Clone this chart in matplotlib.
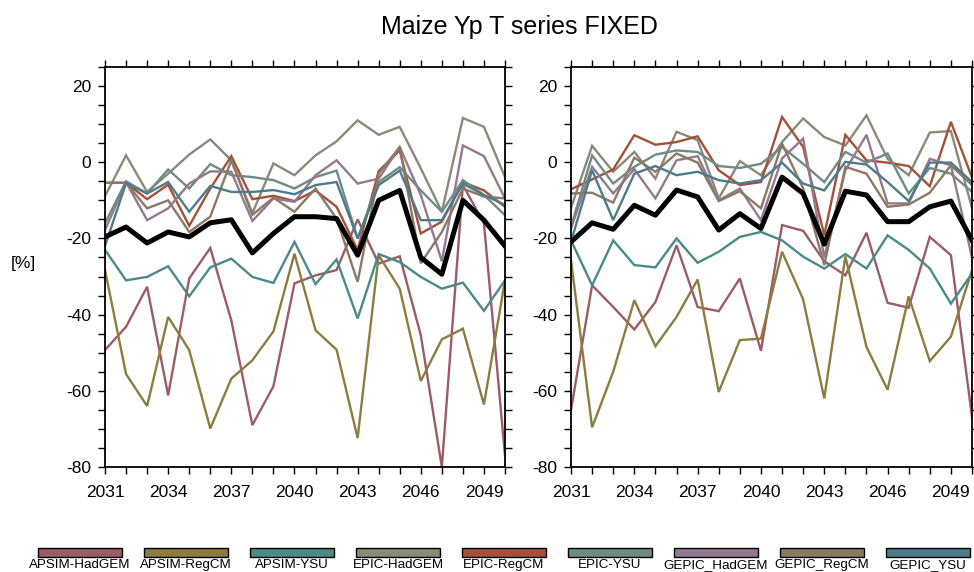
import numpy as np
import matplotlib
matplotlib.use('Agg')
import matplotlib.pyplot as plt
from matplotlib.patches import Rectangle
from matplotlib.ticker import MultipleLocator

plt.rcParams['font.family'] = ['Liberation Sans', 'DejaVu Sans']
plt.rcParams['axes.unicode_minus'] = False

years = np.arange(2031, 2051)

models = ['APSIM-HadGEM', 'APSIM-RegCM', 'APSIM-YSU', 'EPIC-HadGEM', 'EPIC-RegCM',
          'EPIC-YSU', 'GEPIC_HadGEM', 'GEPIC_RegCM', 'GEPIC_YSU']
colors = ['#9c5c66', '#8c7c40', '#4a8a88', '#8a8a78', '#a45038',
          '#6e8c84', '#947890', '#8c7864', '#4c7c8c']

# left panel, yield change [%]
left_apsim_hadgem = [-49.3, -43.2, -32.7, -61.2, -30.5, -22.5, -41.5, -69.0, -58.8, -31.8,
                     -29.7, -28.3, -15.0, -26.6, -24.7, -45.4, -80.0, -6.0, -16.0, -77.0]
left_apsim_regcm = [-28.3, -55.6, -64.0, -40.6, -49.3, -69.9, -56.8, -52.0, -44.4, -24.0,
                    -44.1, -49.2, -72.4, -24.4, -33.2, -57.4, -46.5, -43.7, -63.6, -31.0]
left_apsim_ysu = [-23.0, -31.0, -30.1, -27.3, -35.2, -27.6, -25.3, -30.1, -31.7, -20.9,
                  -32.0, -25.5, -41.0, -24.1, -26.2, -30.1, -33.2, -31.6, -39.0, -31.0]
left_epic_hadgem = [-8.9, 1.8, -7.8, -3.0, 2.0, 6.0, 0.5, -13.4, -0.3, -3.4,
                    1.8, 5.5, 11.0, 7.2, 9.3, -1.6, -13.0, 11.6, 9.3, -3.9]
left_epic_regcm = [-5.4, -5.4, -9.7, -5.9, -16.7, -6.9, 1.6, -9.7, -8.8, -10.2,
                   -7.4, -11.7, -23.0, -2.3, 3.1, -18.7, -15.6, -5.2, -7.4, -11.7]
left_epic_ysu = [-16.0, -5.0, -8.2, -1.9, -6.9, -0.5, -3.4, -3.9, -4.7, -6.9,
                 -3.9, -2.2, -20.0, -5.2, -1.3, -7.4, -13.0, -4.7, -8.6, -13.9]
left_gepic_hadgem = [-17.8, -5.2, -15.2, -12.1, -5.6, -2.4, -2.5, -15.4, -9.5, -10.4,
                     -3.4, 0.5, -5.6, -4.3, 4.0, -8.6, -26.0, 4.4, 1.6, -9.5]
left_gepic_regcm = [-5.4, -5.4, -12.1, -10.0, -18.3, -14.3, 0.5, -13.8, -9.3, -13.0,
                    -6.9, -14.8, -31.4, -3.0, 4.0, -26.5, -18.3, -6.9, -9.0, -9.5]
left_gepic_ysu = [-22.0, -5.5, -8.2, -5.2, -13.0, -6.2, -7.8, -7.8, -7.3, -8.4,
                  -6.0, -5.2, -20.0, -6.0, -2.2, -15.2, -15.2, -5.6, -8.6, -11.2]
left_mean = [-19.6, -17.0, -21.2, -18.3, -19.6, -15.9, -15.1, -23.8, -18.7, -14.3,
             -14.3, -14.8, -24.4, -10.0, -7.4, -25.0, -29.4, -10.0, -15.2, -22.0]

# right panel
right_apsim_hadgem = [-65.0, -32.3, -38.0, -43.9, -36.7, -21.8, -38.0, -39.1, -30.5, -49.5,
                      -16.5, -18.0, -26.0, -29.7, -18.5, -36.9, -38.2, -19.6, -24.4, -66.8]
right_apsim_regcm = [-25.7, -69.6, -55.0, -36.2, -48.3, -40.6, -30.8, -60.3, -46.7, -46.3,
                     -23.5, -36.0, -62.0, -24.7, -48.5, -59.7, -35.2, -52.2, -45.8, -28.3]
right_apsim_ysu = [-20.5, -32.3, -20.5, -27.0, -27.6, -20.0, -26.4, -23.5, -19.6, -18.3,
                   -20.5, -24.8, -27.9, -24.1, -27.9, -19.2, -23.0, -27.9, -37.1, -29.2]
right_epic_hadgem = [-12.0, 4.3, -2.5, 2.7, -4.3, 8.0, 5.8, -9.5, 0.3, -3.4,
                     5.3, 11.5, 6.6, 4.4, 12.3, 0.9, -3.4, 7.8, 8.2, -12.0]
right_epic_regcm = [-7.1, -4.5, -1.9, 7.1, 4.6, 5.3, 6.8, -2.1, -6.0, -5.2,
                    11.9, 4.0, -19.2, 7.2, 0.5, -0.1, -1.0, -6.3, 10.6, -4.0]
right_epic_ysu = [-17.0, 1.8, -5.6, -1.2, 2.0, 3.1, 2.7, -1.0, -1.5, -0.4,
                  4.0, -0.4, -5.2, 2.7, -0.1, 2.3, -8.2, -1.5, -3.0, -7.8]
right_gepic_hadgem = [-17.4, -1.2, -8.2, -1.8, -9.5, 0.5, 1.6, -10.0, -6.9, -15.2,
                      1.0, 6.2, -25.0, -2.1, 7.2, -10.8, -10.8, 0.9, -0.8, -25.0]
right_gepic_regcm = [-8.2, -8.0, -10.6, 1.2, -2.5, 2.3, -0.1, -10.2, -7.6, -12.1,
                     4.9, -6.9, -27.0, -1.2, -3.0, -11.7, -11.1, -8.0, -0.8, -6.0]
right_gepic_ysu = [-20.9, -2.1, -15.2, -3.0, -1.0, -3.4, -2.5, -4.7, -5.6, -4.7,
                   -0.1, -5.6, -7.4, 0.1, -0.6, -5.2, -10.2, -0.1, -0.1, -5.2]
right_mean = [-20.9, -15.9, -17.6, -11.3, -13.9, -7.3, -9.1, -17.8, -13.5, -17.4,
              -3.9, -8.2, -21.5, -7.6, -8.6, -15.6, -15.6, -11.7, -10.2, -20.5]

left_series = [left_apsim_hadgem, left_apsim_regcm, left_apsim_ysu, left_epic_hadgem,
               left_epic_regcm, left_epic_ysu, left_gepic_hadgem, left_gepic_regcm,
               left_gepic_ysu]
right_series = [right_apsim_hadgem, right_apsim_regcm, right_apsim_ysu, right_epic_hadgem,
                right_epic_regcm, right_epic_ysu, right_gepic_hadgem, right_gepic_regcm,
                right_gepic_ysu]

W, H = 974, 572
fig = plt.figure(figsize=(W / 100, H / 100), dpi=100)
ax_l = fig.add_axes([105 / W, 1 - 467 / H, 400 / W, 400 / H])
ax_r = fig.add_axes([571 / W, 1 - 467 / H, 401 / W, 400 / H])

for ax, series, mean in [(ax_l, left_series, left_mean), (ax_r, right_series, right_mean)]:
    for vals, c in zip(series, colors):
        ax.plot(years, vals, color=c, lw=1.7, solid_joinstyle='miter')
    ax.plot(years, mean, color='black', lw=3.6)
    ax.set_xlim(2031, 2050)
    ax.set_ylim(-80, 25)
    ax.set_xticks(np.arange(2031, 2050, 3))
    ax.xaxis.set_minor_locator(MultipleLocator(1))
    ax.set_yticks(np.arange(-80, 21, 20))
    ax.yaxis.set_minor_locator(MultipleLocator(5))
    ax.tick_params(which='both', direction='out', top=True, right=True,
                   length=5, width=1, labelsize=12.5)
    ax.tick_params(axis='x', pad=8)
    ax.tick_params(axis='y', pad=5)
    for sp in ax.spines.values():
        sp.set_linewidth(1.3)

ax_l.set_ylabel('[%]', rotation=0, fontsize=12.5)
ax_l.yaxis.set_label_coords(-0.205, 0.49)

fig.text(519 / W, 1 - 27 / H, 'Maize Yp T series FIXED', ha='center', va='center',
         fontsize=18)

# legend row: box with label underneath
for i, (name, c) in enumerate(zip(models, colors)):
    cx = (80 + 106 * i) / W
    fig.add_artist(Rectangle((cx - 42 / W, 1 - 557 / H), 84 / W, 9 / H,
                             transform=fig.transFigure, facecolor=c,
                             edgecolor='black', lw=1))
    fig.text(cx, 1 - 559 / H, name, ha='center', va='top', fontsize=9.6)

fig.savefig('out.png', dpi=100)
